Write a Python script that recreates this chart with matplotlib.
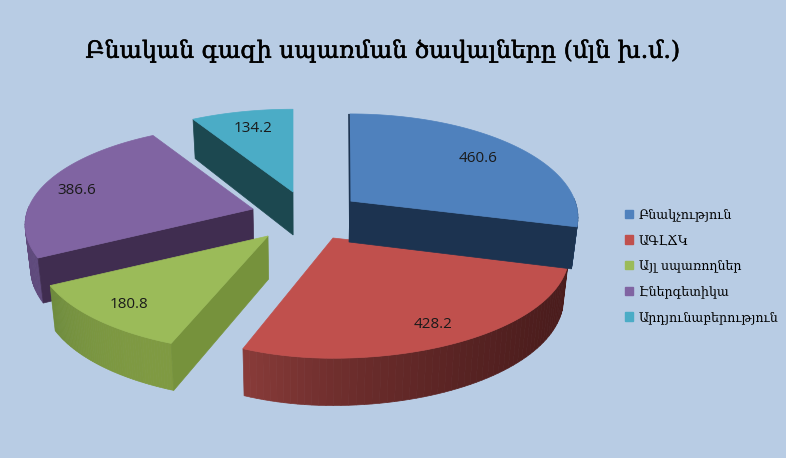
import numpy as np
import matplotlib
matplotlib.use("Agg")
import matplotlib.pyplot as plt
import matplotlib.patheffects as pe
from matplotlib.patches import Polygon, Patch
from matplotlib.colors import to_rgb

title = 'Բնական գազի սպառման ծավալները (մլն խ.մ.)'
categories = ['Բնակչություն', 'ԱԳԼՃԿ', 'Այլ սպառողներ', 'Էներգետիկա', 'Արդյունաբերություն']
values = [460.6, 428.2, 180.8, 386.6, 134.2]

top_colors = ['#4f81bd', '#c0504d', '#9bbb59', '#8064a2', '#4bacc6']
face_colors = ['#1c3350', '#4a1c1c', '#76923c', '#402d50', '#1c4850']
wall_light = ['#2a4a70', '#8a3c3a', '#6e8b3d', '#6b5488', '#2d7385']
wall_dark = ['#1c3350', '#4a1c1c', '#7f9a42', '#5f4a7c', '#2d7385']

# where each exploded slice has its tip on the page, its thickness and radii
tips = [(350, 201), (333, 238), (268, 236), (253, 209), (293, 192)]
depths = [41, 43, 43, 43, 43]
rx_right = [225, 233, 225, 225, 225]
rx_left = [225, 212, 228, 225, 225]
ry_all = [101, 101, 98, 97, 96]
label_pos = [(478, 158), (433, 325), (129, 304), (77, 190), (253, 129)]

persp = 0.16
vanish_x = 300

bounds = np.cumsum([0] + values) / sum(values) * 2 * np.pi


def top_pt(i, th):
    # clockwise from 12 o'clock, nearer points get bigger
    near = -np.cos(th)
    s = 1 / (1 - persp * near)
    rx = rx_right[i] if np.sin(th) > 0 else rx_left[i]
    return tips[i][0] + rx * np.sin(th) * s, tips[i][1] + ry_all[i] * near * s


def low_pt(p, near, depth):
    return p[0] + (vanish_x - p[0]) * 0.02, p[1] + depth * (1 + 0.1 * near)


def radial_face(ax, i, th, color):
    a = top_pt(i, th)
    quad = [tips[i], a, low_pt(a, -np.cos(th), depths[i]), low_pt(tips[i], 0, depths[i])]
    ax.add_patch(Polygon(quad, closed=True, fc=color, ec=color, lw=0.5))


fig = plt.figure(figsize=(7.86, 4.58), dpi=100, facecolor='#b8cce4')
ax = fig.add_axes([0, 0, 1, 1])
ax.set_xlim(0, 786)
ax.set_ylim(458, 0)
ax.axis('off')

# back to front so the nearer slices cover the others
for i in [4, 3, 2, 1, 0]:
    t1, t2 = bounds[i], bounds[i + 1]

    # curved outer wall, front half only
    ths = np.linspace(t1, t2, 60)
    light, dark = np.array(to_rgb(wall_light[i])), np.array(to_rgb(wall_dark[i]))
    for j in range(len(ths) - 1):
        a, b = ths[j], ths[j + 1]
        if -np.cos(a) < -0.02 and -np.cos(b) < -0.02:
            continue
        pa, pb = top_pt(i, a), top_pt(i, b)
        f = (a - t1) / (t2 - t1)
        col = dark + (light - dark) * f ** 2
        quad = [pa, pb, low_pt(pb, -np.cos(b), depths[i]), low_pt(pa, -np.cos(a), depths[i])]
        ax.add_patch(Polygon(quad, closed=True, fc=col, ec=col, lw=0.5))

    if np.sin(t1) < -1e-6:
        radial_face(ax, i, t1, face_colors[i])
    if np.sin(t2) > 1e-6:
        radial_face(ax, i, t2, face_colors[i])
    if i == 0:
        # thin sliver of the back face
        p = top_pt(i, t1)
        ax.plot([p[0] - 1, tips[i][0]], [p[1], tips[i][1] + depths[i]], color=face_colors[i],
                lw=1.2, solid_capstyle='butt')

    arc = [top_pt(i, th) for th in ths]
    ax.add_patch(Polygon([tips[i]] + arc, closed=True, fc=top_colors[i], ec=top_colors[i], lw=0.5))

for v, pos in zip(values, label_pos):
    ax.text(pos[0], pos[1], f'{v:.1f}', ha='center', va='center', fontsize=11,
            family='Open Sans', color='#1a1a1a')

ax.text(383, 51, title, ha='center', va='center', fontsize=17, family='DejaVu Serif',
        color='black', path_effects=[pe.withStroke(linewidth=0.4, foreground='black')])

handles = [Patch(fc=c, ec=c) for c in top_colors]
ax.legend(handles, categories, loc='upper left', bbox_to_anchor=(0.795, 0.545), frameon=False,
          labelspacing=1.0, handlelength=0.65, handleheight=0.65, handletextpad=0.45,
          borderpad=0, borderaxespad=0, prop={'family': 'DejaVu Serif', 'size': 9.1})

fig.savefig('out.png', dpi=100, facecolor=fig.get_facecolor())
